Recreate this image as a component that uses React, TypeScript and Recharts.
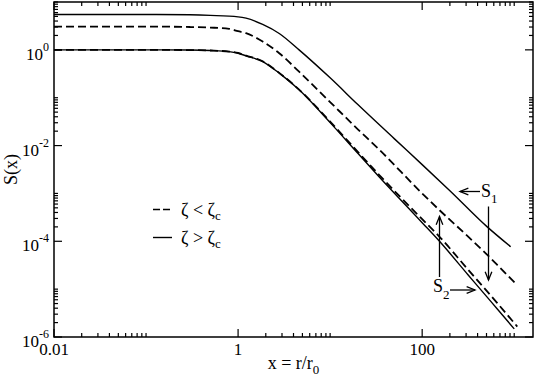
import React from 'react'
import { LineChart, Line, XAxis, YAxis, ReferenceArea } from 'recharts'

const W = 536
const H = 382
// plot box in page pixels, used by the tick marks and the annotations
const PLOT = { left: 54, top: 2, right: 533, bottom: 337 }
const FONT = 'Liberation Serif'

// x = r/r0 positions where the curves were read
const xUpperSolid = [0.01, 0.1, 0.3, 0.5, 1, 1.22, 1.85, 2.8, 4.6, 10, 20, 50, 100, 200, 509, 915]
const xLowerSolid = [0.01, 0.1, 0.3, 0.5, 0.8, 1, 1.22, 1.85, 2.8, 4.6, 10, 20, 34, 100, 150, 316, 500, 655, 1000]
const xDashed = [0.01, 0.1, 0.3, 0.5, 0.8, 1, 1.22, 1.85, 2.8, 4.6, 10, 20, 34, 100, 150, 316, 500, 655, 1080]

// S(x) values
const sUpperSolid = [5.5, 5.5, 5.4, 5.25, 4.9, 4.6, 3.4, 2.2, 1.0, 0.26, 0.072, 0.0138, 0.004, 0.00114, 2.0e-4, 7.7e-5]
const sUpperDashed = [3.07, 3.07, 3.0, 2.92, 2.75, 2.45, 2.23, 1.49, 0.85, 0.35, 0.081, 0.0219, 0.0083, 1.0e-3, 4.7e-4, 1.25e-4, 5.4e-5, 3.2e-5, 1.21e-5]
const sLowerSolid = [1, 1, 0.99, 0.97, 0.92, 0.85, 0.75, 0.57, 0.326, 0.146, 0.0302, 0.0069, 0.00224, 2.45e-4, 1.06e-4, 1.98e-5, 7.05e-6, 3.85e-6, 1.48e-6]
const sLowerDashed = [1, 1, 0.99, 0.97, 0.92, 0.86, 0.76, 0.58, 0.33, 0.148, 0.0316, 0.0074, 0.00245, 2.9e-4, 1.32e-4, 2.55e-5, 9.3e-6, 5.1e-6, 1.65e-6]

// ticks: labelled majors every two decades, minors 2..10 after each major
const xMajor = [0.01, 1, 100]
const xMajorLabels = ['0.01', '1', '100']
const xMinor = [0.02, 0.03, 0.04, 0.05, 0.06, 0.07, 0.08, 0.09, 0.1, 2, 3, 4, 5, 6, 7, 8, 9, 10, 200, 300, 400, 500, 600, 700, 800, 900, 1000]
const yMajor = [1e-6, 1e-4, 1e-2, 1]
const yMajorExp = ['-6', '-4', '-2', '0']
const yMinor = [2e-6, 3e-6, 4e-6, 5e-6, 6e-6, 7e-6, 8e-6, 9e-6, 1e-5, 2e-4, 3e-4, 4e-4, 5e-4, 6e-4, 7e-4, 8e-4, 9e-4, 1e-3, 2e-2, 3e-2, 4e-2, 5e-2, 6e-2, 7e-2, 8e-2, 9e-2, 1e-1, 2, 3, 4, 5, 6, 7, 8, 9, 10]

const toPoints = (xs: number[], ys: number[]) => xs.map((x, i) => ({ x, y: ys[i] }))

const XTick = (props: any) => {
  const { x, payload } = props
  const idx = xMajor.indexOf(payload.value)
  const len = idx >= 0 ? 8 : 4
  return (
    <g>
      <line x1={x} x2={x} y1={PLOT.bottom} y2={PLOT.bottom - len} stroke="#000" strokeWidth={1.2} />
      <line x1={x} x2={x} y1={PLOT.top} y2={PLOT.top + len} stroke="#000" strokeWidth={1.2} />
      {idx >= 0 && (
        <text x={x} y={PLOT.bottom + 18} textAnchor="middle" fontSize={17} fontFamily={FONT} fill="#000">
          {xMajorLabels[idx]}
        </text>
      )}
    </g>
  )
}

const YTick = (props: any) => {
  const { y, payload } = props
  const idx = yMajor.indexOf(payload.value)
  const len = idx >= 0 ? 8 : 4
  return (
    <g>
      <line x1={PLOT.left} x2={PLOT.left + len} y1={y} y2={y} stroke="#000" strokeWidth={1.2} />
      <line x1={PLOT.right} x2={PLOT.right - len} y1={y} y2={y} stroke="#000" strokeWidth={1.2} />
      {idx >= 0 && (
        <text x={PLOT.left - 5} y={y + 10} textAnchor="end" fontSize={17} fontFamily={FONT} fill="#000">
          10
          <tspan dy={-9} fontSize={12}>{yMajorExp[idx]}</tspan>
        </text>
      )}
    </g>
  )
}

const Arrow = ({ x1, y1, x2, y2 }: { x1: number; y1: number; x2: number; y2: number }) => {
  // open arrow head at (x2, y2)
  const a = Math.atan2(y2 - y1, x2 - x1)
  const h = 9
  const s = 0.38
  const p1 = [x2 - h * Math.cos(a - s), y2 - h * Math.sin(a - s)]
  const p2 = [x2 - h * Math.cos(a + s), y2 - h * Math.sin(a + s)]
  return (
    <g stroke="#000" strokeWidth={1.3} fill="none">
      <line x1={x1} y1={y1} x2={x2} y2={y2} />
      <polyline points={`${p1[0]},${p1[1]} ${x2},${y2} ${p2[0]},${p2[1]}`} />
    </g>
  )
}

export default function App() {
  return (
    <div style={{ position: 'absolute', left: 0, top: 0, width: W, height: H, background: '#fff' }}>
      <LineChart width={W} height={H} margin={{ top: PLOT.top, right: W - PLOT.right, bottom: 0, left: 0 }}>
        <XAxis
          dataKey="x"
          type="number"
          scale="log"
          domain={[0.01, 1600]}
          allowDataOverflow
          ticks={[...xMajor, ...xMinor]}
          interval={0}
          tickLine={false}
          axisLine={false}
          tick={(p: any) => <XTick {...p} />}
          height={H - PLOT.bottom}
          label={(p: any) => {
            const vb = p.viewBox
            return (
              <text x={vb.x + vb.width / 2} y={368.5} textAnchor="middle" fontSize={18} fontFamily={FONT} fill="#000">
                x = r/r
                <tspan dy={5} fontSize={13}>0</tspan>
              </text>
            )
          }}
        />
        <YAxis
          type="number"
          scale="log"
          domain={[1e-6, 10]}
          allowDataOverflow
          ticks={[...yMajor, ...yMinor]}
          interval={0}
          tickLine={false}
          axisLine={false}
          tick={(p: any) => <YTick {...p} />}
          width={PLOT.left}
          label={(p: any) => {
            const vb = p.viewBox
            const cy = vb.y + vb.height / 2
            return (
              <text x={17} y={cy} transform={`rotate(-90 17 ${cy})`} textAnchor="middle" fontSize={18} fontFamily={FONT} fill="#000">
                S(x)
              </text>
            )
          }}
        />
        <ReferenceArea x1={0.01} x2={1600} y1={1e-6} y2={10} fill="none" stroke="#000" strokeWidth={1.5} ifOverflow="visible" />
        <Line data={toPoints(xUpperSolid, sUpperSolid)} dataKey="y" type="monotone" stroke="#000" strokeWidth={1.4} dot={false} isAnimationActive={false} />
        <Line data={toPoints(xDashed, sUpperDashed)} dataKey="y" type="monotone" stroke="#000" strokeWidth={1.8} strokeDasharray="8 4" dot={false} isAnimationActive={false} />
        <Line data={toPoints(xLowerSolid, sLowerSolid)} dataKey="y" type="monotone" stroke="#000" strokeWidth={1.4} dot={false} isAnimationActive={false} />
        <Line data={toPoints(xDashed, sLowerDashed)} dataKey="y" type="monotone" stroke="#000" strokeWidth={1.8} strokeDasharray="8 4" dot={false} isAnimationActive={false} />
      </LineChart>

      {/* legend and S1 / S2 annotations */}
      <svg width={W} height={H} style={{ position: 'absolute', left: 0, top: 0, pointerEvents: 'none' }}>
        <line x1={153} x2={172} y1={209.5} y2={209.5} stroke="#000" strokeWidth={1.6} strokeDasharray="7 3" />
        <text x={181} y={216} fontSize={18} fontFamily={FONT} fill="#000">
          ζ &lt; ζ<tspan dy={4} fontSize={13}>c</tspan>
        </text>
        <line x1={153} x2={172} y1={237.5} y2={237.5} stroke="#000" strokeWidth={1.4} />
        <text x={181} y={244} fontSize={18} fontFamily={FONT} fill="#000">
          ζ &gt; ζ<tspan dy={4} fontSize={13}>c</tspan>
        </text>

        <text x={481} y={197} fontSize={18} fontFamily={FONT} fill="#000">
          S<tspan dy={6} fontSize={13}>1</tspan>
        </text>
        <text x={433} y={292} fontSize={18} fontFamily={FONT} fill="#000">
          S<tspan dy={7} fontSize={13}>2</tspan>
        </text>
        <Arrow x1={480} y1={191.5} x2={460} y2={191.5} />
        <Arrow x1={488.5} y1={206.5} x2={488.5} y2={280} />
        <Arrow x1={439.5} y1={277} x2={439.5} y2={216.5} />
        <Arrow x1={450} y1={290} x2={475} y2={290} />
      </svg>
    </div>
  )
}
